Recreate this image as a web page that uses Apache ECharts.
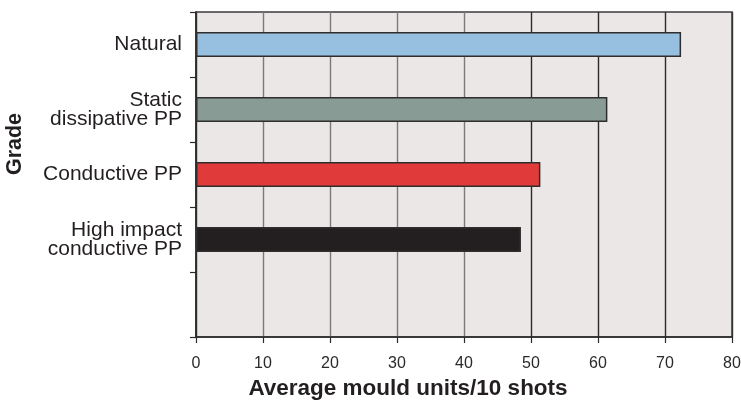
<!DOCTYPE html>
<html>
<head>
<meta charset="utf-8">
<script src="https://cdn.jsdelivr.net/npm/echarts@6/dist/echarts.min.js"></script>
<style>
  html, body { margin: 0; padding: 0; background: #ffffff; }
  #chart { width: 741px; height: 403px; }
</style>
</head>
<body>
<div id="chart"></div>
<script>
// Polypropylene grades (top to bottom); the last slot is left empty
const grades = ['Natural', 'Static\ndissipative PP', 'Conductive PP', 'High impact\nconductive PP', ''];
// Average mould units per 10 shots for each grade
const mouldUnits = [72.4, 61.4, 51.4, 48.5, null];
// Fill colour for each grade's bar
const barColors = ['#97bfe0', '#889b94', '#e03a3a', '#231f20', '#ffffff'];
// Horizontal axis range and step
const xMin = 0, xMax = 80, xStep = 10;

const chart = echarts.init(document.getElementById('chart'), null, { renderer: 'canvas' });

chart.setOption({
  animation: false,
  backgroundColor: '#ffffff',
  textStyle: { fontFamily: 'Liberation Sans, Arial, Helvetica, sans-serif' },
  grid: {
    left: 196, top: 12, right: 9, bottom: 66,
    outerBoundsMode: 'none',
    containLabel: false,
    show: true,
    backgroundColor: '#ebe7e7',
    borderColor: '#3c3c3c',
    borderWidth: 1.5
  },
  xAxis: {
    type: 'value',
    min: xMin, max: xMax, interval: xStep,
    name: 'Average mould units/10 shots',
    nameLocation: 'middle',
    nameGap: 40,
    nameTextStyle: {
      color: '#231f20', fontSize: 22.5, fontWeight: 'bold',
      padding: [0, 112, 0, 0]
    },
    axisLine: { show: true, lineStyle: { color: '#2a2a2a', width: 1.5 } },
    axisTick: { show: true, length: 6, lineStyle: { color: '#2a2a2a', width: 1.2 } },
    axisLabel: { color: '#2a2a2a', fontSize: 16, margin: 19 },
    splitLine: {
      show: true,
      lineStyle: {
        color: ['#333333', '#7a7a7a', '#7a7a7a', '#7a7a7a', '#7a7a7a', '#2a2a2a', '#2a2a2a', '#2a2a2a', '#333333'],
        width: 1.4
      }
    }
  },
  yAxis: {
    type: 'category',
    data: grades,
    inverse: true,
    name: 'Grade',
    nameLocation: 'middle',
    nameRotate: 90,
    nameGap: 170,
    nameTextStyle: {
      color: '#231f20', fontSize: 21.5, fontWeight: 'bold',
      padding: [0, 0, 0, 61]
    },
    axisLine: { show: true, lineStyle: { color: '#2a2a2a', width: 1.5 } },
    axisTick: { show: true, length: 6, lineStyle: { color: '#2a2a2a', width: 1.2 } },
    axisLabel: { color: '#231f20', fontSize: 21, lineHeight: 19, margin: 14, align: 'right' },
    splitLine: { show: false }
  },
  series: [{
    type: 'bar',
    data: mouldUnits.map((v, i) => ({
      value: v,
      itemStyle: { color: barColors[i] }
    })),
    barWidth: 25,
    itemStyle: { borderColor: '#2e2e2e', borderWidth: 1.5 },
    z: 3
  }]
});
</script>
</body>
</html>
